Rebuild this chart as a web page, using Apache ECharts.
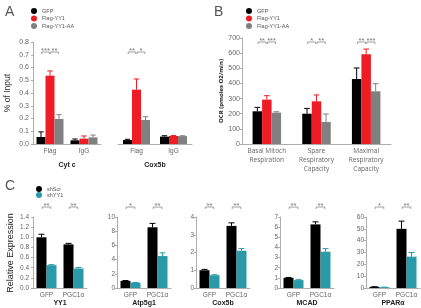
<!DOCTYPE html>
<html>
<head>
<meta charset="utf-8">
<script src="https://cdn.jsdelivr.net/npm/echarts@6/dist/echarts.min.js"></script>
<style>
html, body { margin: 0; padding: 0; background: #fff; }
#chart { width: 421px; height: 308px; }
</style>
</head>
<body>
<div id="chart"></div>
<script>
// ---- panel A: ChIP (% of input) ----
var chipCats = ['Flag', 'IgG'];
var chipNames = ['GFP', 'Flag-YY1', 'Flag-YY1-AA'];
var cytcMean = [[0.055, 0.029], [0.536, 0.042], [0.196, 0.052]];
var cytcErr = [[0.04, 0.01], [0.037, 0.021], [0.034, 0.018]];
var cox5bChipMean = [[0.031, 0.058], [0.426, 0.063], [0.188, 0.062]];
var cox5bChipErr = [[0.006, 0.007], [0.084, 0.004], [0.026, 0.003]];
var sigCytc = [[0, 0, 1, '***'], [0, 1, 2, '**']];
var sigCox5bChip = [[0, 0, 1, '**'], [0, 1, 2, '*']];
var yTicksChip = [0, 0.1, 0.2, 0.3, 0.4, 0.5, 0.6, 0.7, 0.8];

// ---- panel B: OCR ----
var ocrCats = ['Basal Mitoch\nRespiration', 'Spare\nRespiratory\nCapacity', 'Maximal\nRespiratory\nCapacity'];
var ocrMean = [[216, 200, 429], [293, 282, 592], [207, 145, 348]];
var ocrErr = [[26, 35, 73], [26, 42, 35], [6, 53, 50]];
var sigOcr = [[0, 0, 1, '**'], [0, 1, 2, '***'], [1, 0, 1, '*'], [1, 1, 2, '**'], [2, 0, 1, '**'], [2, 1, 2, '***']];

// ---- panel C: relative expression ----
var qCats = ['GFP', 'PGC1\u03b1'];
var shNames = ['shScr', 'shYY1'];
var yy1Mean = [[1.0, 0.86], [0.45, 0.385]];
var yy1Err = [[0.06, 0.02], [0.01, 0.02]];
var atpMean = [[1.0, 8.55], [0.75, 4.5]];
var atpErr = [[0.05, 0.55], [0.03, 0.45]];
var coxMean = [[1.0, 3.5], [0.72, 2.1]];
var coxErr = [[0.05, 0.17], [0.03, 0.12]];
var mcadMean = [[1.0, 6.27], [0.78, 3.58]];
var mcadErr = [[0.04, 0.25], [0.04, 0.3]];
var pparMean = [[1.0, 50], [0.7, 26.5]];
var pparErr = [[0.1, 6.5], [0.05, 3.5]];
var sigYY1 = [[0, 0, 1, '**'], [1, 0, 1, '**']];
var sigAtp = [[0, 0, 1, '*'], [1, 0, 1, '**']];
var sigCox = [[0, 0, 1, '**'], [1, 0, 1, '**']];
var sigMcad = [[0, 0, 1, '**'], [1, 0, 1, '**']];
var sigPpar = [[0, 0, 1, '*'], [1, 0, 1, '**']];
var yTicksYY1 = [0, 0.2, 0.4, 0.6, 0.8, 1.0, 1.2, 1.4];

var chipColors = ['#000000', '#ee1c24', '#808080'];
var shColors = ['#000000', '#2a9aa9'];
var FONT = '"Liberation Sans", Arial, sans-serif';

var grids = [], xAxes = [], yAxes = [], series = [];

function errItem(k, n, bw, color) {
    return function (params, api) {
        var p0 = api.coord([api.value(0), api.value(1)]);
        var p1 = api.coord([api.value(0), api.value(1) + api.value(2)]);
        var cx = p0[0] + (k - (n - 1) / 2) * bw;
        var hw = bw * 0.3;
        return {
            type: 'group',
            children: [
                { type: 'line', shape: { x1: cx, y1: p0[1], x2: cx, y2: p1[1] }, style: { stroke: color, lineWidth: 1 } },
                { type: 'line', shape: { x1: cx - hw, y1: p1[1], x2: cx + hw, y2: p1[1] }, style: { stroke: color, lineWidth: 1 } }
            ]
        };
    };
}

function sigItem(labels, n, bw, dy) {
    return function (params, api) {
        var c = api.coord([api.value(0), 0]);
        var x1 = c[0] + (api.value(1) - (n - 1) / 2) * bw + 0.7;
        var x2 = c[0] + (api.value(2) - (n - 1) / 2) * bw - 0.7;
        var y = params.coordSys.y + dy;
        return {
            type: 'group',
            children: [
                { type: 'polyline', shape: { points: [[x1, y + 2], [x1, y], [x2, y], [x2, y + 2]] },
                  style: { stroke: '#888', fill: null, lineWidth: 0.8 } },
                { type: 'text', x: (x1 + x2) / 2, y: y + 3,
                  style: { text: labels[params.dataIndex], align: 'center', verticalAlign: 'bottom',
                           fontSize: 7.5, fill: '#777', fontFamily: FONT } }
            ]
        };
    };
}

// decimal tick labels, placed on the axis through the y scale
function tickItem(fontSize) {
    return function (params, api) {
        var p = api.coord([0, api.value(1)]);
        return {
            type: 'text', x: params.coordSys.x - 4, y: p[1],
            style: { text: Number(api.value(1)).toFixed(1), align: 'right', verticalAlign: 'middle',
                     fontSize: fontSize, fill: '#666', fontFamily: FONT }
        };
    };
}

function addPanel(cfg) {
    var gi = grids.length;
    var n = cfg.means.length;
    grids.push({ left: cfg.left, top: cfg.top, width: cfg.width, height: cfg.height });
    xAxes.push({
        gridIndex: gi, type: 'category', data: cfg.cats,
        name: cfg.title || '', nameLocation: 'middle', nameGap: cfg.titleGap || 15,
        nameTextStyle: { fontSize: cfg.titleSize || 7, fontWeight: 'bold', color: '#222', fontFamily: FONT },
        axisLine: { lineStyle: { color: '#999', width: 0.8 } },
        axisTick: { show: false },
        axisLabel: { fontSize: cfg.xFont || 6.5, color: '#666', margin: 3, lineHeight: cfg.xLine || 8,
                     fontFamily: cfg.xFamily || FONT, interval: 0 }
    });
    var y = {
        gridIndex: gi, type: 'value', min: 0, max: cfg.max, interval: cfg.interval,
        axisLine: { show: true, lineStyle: { color: '#999', width: 0.8 } },
        axisTick: { show: true, length: 2, lineStyle: { color: '#999', width: 0.8 } },
        splitLine: { show: false },
        axisLabel: { show: !cfg.yTicks, fontSize: cfg.yFont || 6.5, color: '#666', margin: 2, fontFamily: FONT,
                     formatter: function (v) { return String(Math.round(Number(v))); } }
    };
    if (cfg.showY === false) y.show = false;
    if (cfg.yName) {
        y.name = cfg.yName; y.nameLocation = 'middle'; y.nameGap = cfg.yNameGap; y.nameTextStyle = cfg.yNameStyle;
    }
    yAxes.push(y);
    cfg.means.forEach(function (m, k) {
        series.push({
            type: 'bar', name: cfg.names[k], xAxisIndex: gi, yAxisIndex: gi, data: m,
            barWidth: cfg.bw, barGap: '0%', itemStyle: { color: cfg.colors[k] }, silent: true
        });
        series.push({
            type: 'custom', xAxisIndex: gi, yAxisIndex: gi, z: 3, silent: true,
            encode: { x: 0, y: 1 },
            renderItem: errItem(k, n, cfg.bw, cfg.colors[k]),
            data: m.map(function (v, i) { return [i, v, cfg.errs[k][i]]; })
        });
    });
    if (cfg.sig) {
        series.push({
            type: 'custom', xAxisIndex: gi, yAxisIndex: gi, z: 4, silent: true, clip: false,
            encode: { x: 0, y: 1 },
            renderItem: sigItem(cfg.sig.map(function (s) { return s[3]; }), n, cfg.bw, cfg.sigDy),
            data: cfg.sig.map(function (s) { return [s[0], s[1], s[2]]; })
        });
    }
    if (cfg.yTicks) {
        series.push({
            type: 'custom', xAxisIndex: gi, yAxisIndex: gi, z: 5, silent: true, clip: false,
            encode: { x: 0, y: 1 },
            renderItem: tickItem(cfg.yFont || 6.5),
            data: cfg.yTicks.map(function (t) { return [0, t]; })
        });
    }
}

// panel A
addPanel({ left: 33, top: 42, width: 68, height: 102, cats: chipCats, title: 'Cyt c', titleGap: 18,
    means: cytcMean, errs: cytcErr, names: chipNames, colors: chipColors, bw: 9,
    max: 0.8, interval: 0.1, yTicks: yTicksChip, yFont: 7,
    sig: sigCytc, sigDy: 10 });
addPanel({ left: 118, top: 42, width: 74, height: 102, cats: chipCats, title: 'Cox5b', titleGap: 18,
    means: cox5bChipMean, errs: cox5bChipErr, names: chipNames, colors: chipColors, bw: 9,
    max: 0.8, interval: 0.1, showY: false, sig: sigCox5bChip, sigDy: 10 });

// panel B
addPanel({ left: 242, top: 38, width: 149, height: 106, cats: ocrCats,
    means: ocrMean, errs: ocrErr, names: chipNames, colors: chipColors, bw: 9.5,
    max: 700, interval: 100, yFont: 7, xFont: 6.5, xLine: 9, xFamily: '"Open Sans", sans-serif',
    yName: 'OCR (pmoles O2/min)', yNameGap: 17,
    yNameStyle: { fontSize: 6, fontWeight: 'bold', color: '#222', fontFamily: '"Open Sans", sans-serif' },
    sig: sigOcr, sigDy: 4 });

// panel C
var cPanels = [
    { left: 33, title: 'YY1', means: yy1Mean, errs: yy1Err, max: 1.4, interval: 0.2, yTicks: yTicksYY1, sig: sigYY1 },
    { left: 117, title: 'Atp5g1', means: atpMean, errs: atpErr, max: 10, interval: 2, sig: sigAtp },
    { left: 196, title: 'Cox5b', means: coxMean, errs: coxErr, max: 4, interval: 1, sig: sigCox },
    { left: 280, title: 'MCAD', means: mcadMean, errs: mcadErr, max: 7, interval: 1, sig: sigMcad },
    { left: 366, title: 'PPAR\u03b1', means: pparMean, errs: pparErr, max: 60, interval: 10, sig: sigPpar }
];
cPanels.forEach(function (p) {
    p.top = 217; p.width = 54; p.height = 73; p.cats = qCats; p.names = shNames;
    p.colors = shColors; p.bw = 10; p.titleGap = 12; p.sigDy = -10;
    addPanel(p);
});

var legendBase = {
    orient: 'vertical', icon: 'circle', itemWidth: 6, itemHeight: 6, itemGap: 1.5,
    selectedMode: false, textStyle: { fontSize: 5.5, color: '#555', fontFamily: FONT }
};

var option = {
    animation: false,
    backgroundColor: '#fff',
    title: [
        { text: 'A', left: 0, top: 0, textStyle: { fontSize: 14, fontWeight: 'lighter', color: '#555', fontFamily: FONT } },
        { text: 'B', left: 209, top: 0, textStyle: { fontSize: 14, fontWeight: 'lighter', color: '#555', fontFamily: FONT } },
        { text: 'C', left: 0, top: 174, textStyle: { fontSize: 14, fontWeight: 'lighter', color: '#555', fontFamily: FONT } }
    ],
    graphic: [
        { type: 'text', x: 3, y: 93, rotation: Math.PI / 2,
          style: { text: '% of Input', fontSize: 8.5, fill: '#333', fontFamily: FONT, align: 'center', verticalAlign: 'top' } },
        { type: 'text', x: 6, y: 253, rotation: Math.PI / 2,
          style: { text: 'Relative Expression', fontSize: 9, fill: '#222', fontFamily: FONT, align: 'center', verticalAlign: 'top' } }
    ],
    legend: [
        Object.assign({}, legendBase, { left: 26, top: 3, data: chipNames }),
        Object.assign({}, legendBase, { left: 241, top: 3, data: chipNames }),
        Object.assign({}, legendBase, { left: 31, top: 181, data: shNames, itemGap: 0 })
    ],
    grid: grids,
    xAxis: xAxes,
    yAxis: yAxes,
    series: series
};

var myChart = echarts.init(document.getElementById('chart'));
myChart.setOption(option);
window.addEventListener('resize', function () { myChart.resize(); });
</script>
</body>
</html>
